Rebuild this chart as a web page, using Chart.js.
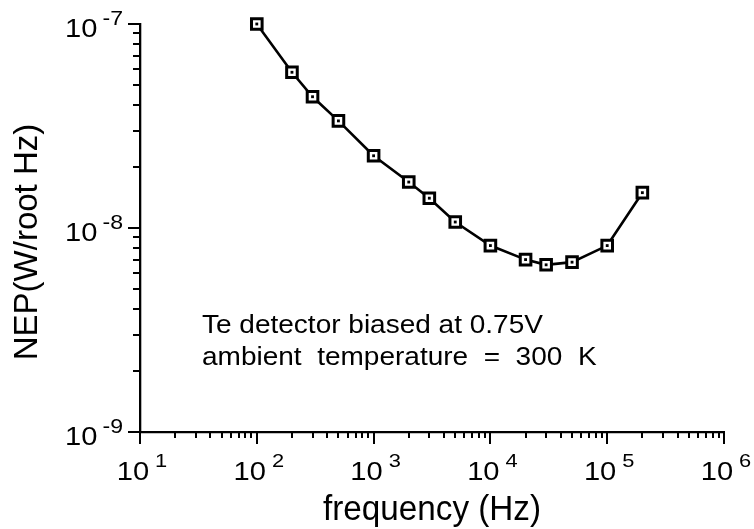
<!DOCTYPE html>
<html>
<head>
<meta charset="utf-8">
<script src="https://cdn.jsdelivr.net/npm/chart.js@4/dist/chart.umd.min.js"></script>
<style>
  html, body { margin: 0; padding: 0; background: #ffffff; }
  #wrap { width: 754px; height: 529px; }
</style>
</head>
<body>
<div id="wrap"><canvas id="c" width="754" height="529"></canvas></div>
<script>
// ---- data ----
const frequency = [100, 200, 300, 500, 1000, 2000, 3000, 5000, 10000, 20000, 30000, 50000, 100000, 200000];
const nep = [1.0e-7, 5.8e-8, 4.4e-8, 3.35e-8, 2.26e-8, 1.68e-8, 1.4e-8, 1.07e-8, 8.2e-9, 7.0e-9, 6.6e-9, 6.8e-9, 8.2e-9, 1.49e-8];
const xExponents = [1, 2, 3, 4, 5, 6];
const yExponents = [-9, -8, -7];
const xTitle = 'frequency (Hz)';
const yTitle = 'NEP(W/root Hz)';
const noteLines = ['Te detector biased at 0.75V', 'ambient  temperature  =  300  K'];

const FONT = '"Liberation Sans", Arial, Helvetica, sans-serif';
const points = frequency.map((f, i) => ({ x: f, y: nep[i] }));

function stretchText(ctx, text, x, y, sx, align) {
  ctx.save();
  ctx.translate(x, y);
  ctx.scale(sx, 1);
  ctx.textAlign = align || 'left';
  ctx.fillText(text, 0, 0);
  ctx.restore();
}

const decor = {
  id: 'decor',
  afterDraw(chart) {
    const { ctx, chartArea: a, scales: { x, y } } = chart;
    ctx.save();
    ctx.strokeStyle = '#000';
    ctx.fillStyle = '#000';
    ctx.lineWidth = 2;
    ctx.lineCap = 'butt';

    // x tick marks (outward, below axis)
    const xmax = Math.pow(10, xExponents[xExponents.length - 1]);
    for (let e = xExponents[0]; e <= xExponents[xExponents.length - 1]; e++) {
      for (let m = 1; m <= 9; m++) {
        const v = m * Math.pow(10, e);
        if (v > xmax * 1.0001) break;
        const px = Math.round(x.getPixelForValue(v));
        const len = m === 1 ? 12 : 6;
        ctx.beginPath();
        ctx.moveTo(px, a.bottom);
        ctx.lineTo(px, a.bottom + len);
        ctx.stroke();
      }
    }
    // y tick marks (outward, left of axis)
    const ymax = Math.pow(10, yExponents[yExponents.length - 1]);
    for (let e = yExponents[0]; e <= yExponents[yExponents.length - 1]; e++) {
      for (let m = 1; m <= 9; m++) {
        const v = m * Math.pow(10, e);
        if (v > ymax * 1.0001) break;
        const py = Math.round(y.getPixelForValue(v));
        const len = m === 1 ? 12 : 7;
        ctx.beginPath();
        ctx.moveTo(a.left, py);
        ctx.lineTo(a.left - len, py);
        ctx.stroke();
      }
    }

    ctx.textBaseline = 'alphabetic';
    // x tick labels: 10^n
    const baseX = 1.12, supX = 1.15;
    xExponents.forEach(e => {
      const px = x.getPixelForValue(Math.pow(10, e));
      const sup = String(e);
      ctx.font = '26px ' + FONT;
      const w1 = ctx.measureText('10').width * baseX;
      ctx.font = '19px ' + FONT;
      const w2 = ctx.measureText(sup).width * supX;
      const gap = 6;
      const start = px - (w1 + gap + w2) / 2 + 2;
      ctx.font = '26px ' + FONT;
      stretchText(ctx, '10', start, a.bottom + 48, baseX);
      ctx.font = '19px ' + FONT;
      stretchText(ctx, sup, start + w1 + gap, a.bottom + 35, supX);
    });

    // y tick labels: 10^-n
    yExponents.forEach(e => {
      const py = y.getPixelForValue(Math.pow(10, e));
      const sup = String(e);
      ctx.font = '21px ' + FONT;
      const w2 = ctx.measureText(sup).width * 1.1;
      const supRight = a.left - 17;
      stretchText(ctx, sup, supRight - w2, py + 1, 1.1);
      ctx.font = '26px ' + FONT;
      const w1 = ctx.measureText('10').width * 1.12;
      stretchText(ctx, '10', supRight - w2 - 5 - w1, py + 13, 1.12);
    });

    // axis titles
    ctx.font = '35px ' + FONT;
    stretchText(ctx, xTitle, (a.left + a.right) / 2, a.bottom + 88, 0.95, 'center');

    ctx.save();
    ctx.font = '33px ' + FONT;
    ctx.translate(37, 242);
    ctx.rotate(-Math.PI / 2);
    ctx.textAlign = 'center';
    ctx.fillText(yTitle, 0, 0);
    ctx.restore();

    // annotation
    ctx.font = '25px ' + FONT;
    noteLines.forEach((t, i) => {
      stretchText(ctx, t, a.left + 62, a.top + 309 + i * 32, 1.12);
    });
    ctx.restore();
  }
};

new Chart(document.getElementById('c'), {
  type: 'line',
  data: {
    datasets: [
      {
        label: 'dots',
        data: points,
        showLine: false,
        pointStyle: 'rect',
        pointRadius: 2,
        pointBorderWidth: 0,
        pointBackgroundColor: '#000',
        pointBorderColor: '#000',
        order: 0,
        clip: false
      },
      {
        label: 'NEP',
        data: points,
        borderColor: '#000',
        borderWidth: 2.6,
        tension: 0,
        pointStyle: 'rect',
        pointRadius: 7.5,
        pointBorderWidth: 3,
        pointBackgroundColor: '#fff',
        pointBorderColor: '#000',
        order: 1,
        clip: false
      }
    ]
  },
  options: {
    responsive: false,
    animation: false,
    events: [],
    layout: { padding: { left: 140, top: 24, right: 30, bottom: 97 } },
    plugins: { legend: { display: false }, tooltip: { enabled: false }, title: { display: false } },
    scales: {
      x: {
        type: 'logarithmic',
        position: 'bottom',
        min: Math.pow(10, xExponents[0]),
        max: Math.pow(10, xExponents[xExponents.length - 1]),
        grid: { display: false, drawTicks: false },
        ticks: { display: false },
        border: { display: true, color: '#000', width: 2.3 },
        afterFit: s => { s.height = 0; }
      },
      y: {
        type: 'logarithmic',
        position: 'left',
        min: Math.pow(10, yExponents[0]),
        max: Math.pow(10, yExponents[yExponents.length - 1]),
        grid: { display: false, drawTicks: false },
        ticks: { display: false },
        border: { display: true, color: '#000', width: 2.3 },
        afterFit: s => { s.width = 0; }
      }
    }
  },
  plugins: [decor]
});
</script>
</body>
</html>
